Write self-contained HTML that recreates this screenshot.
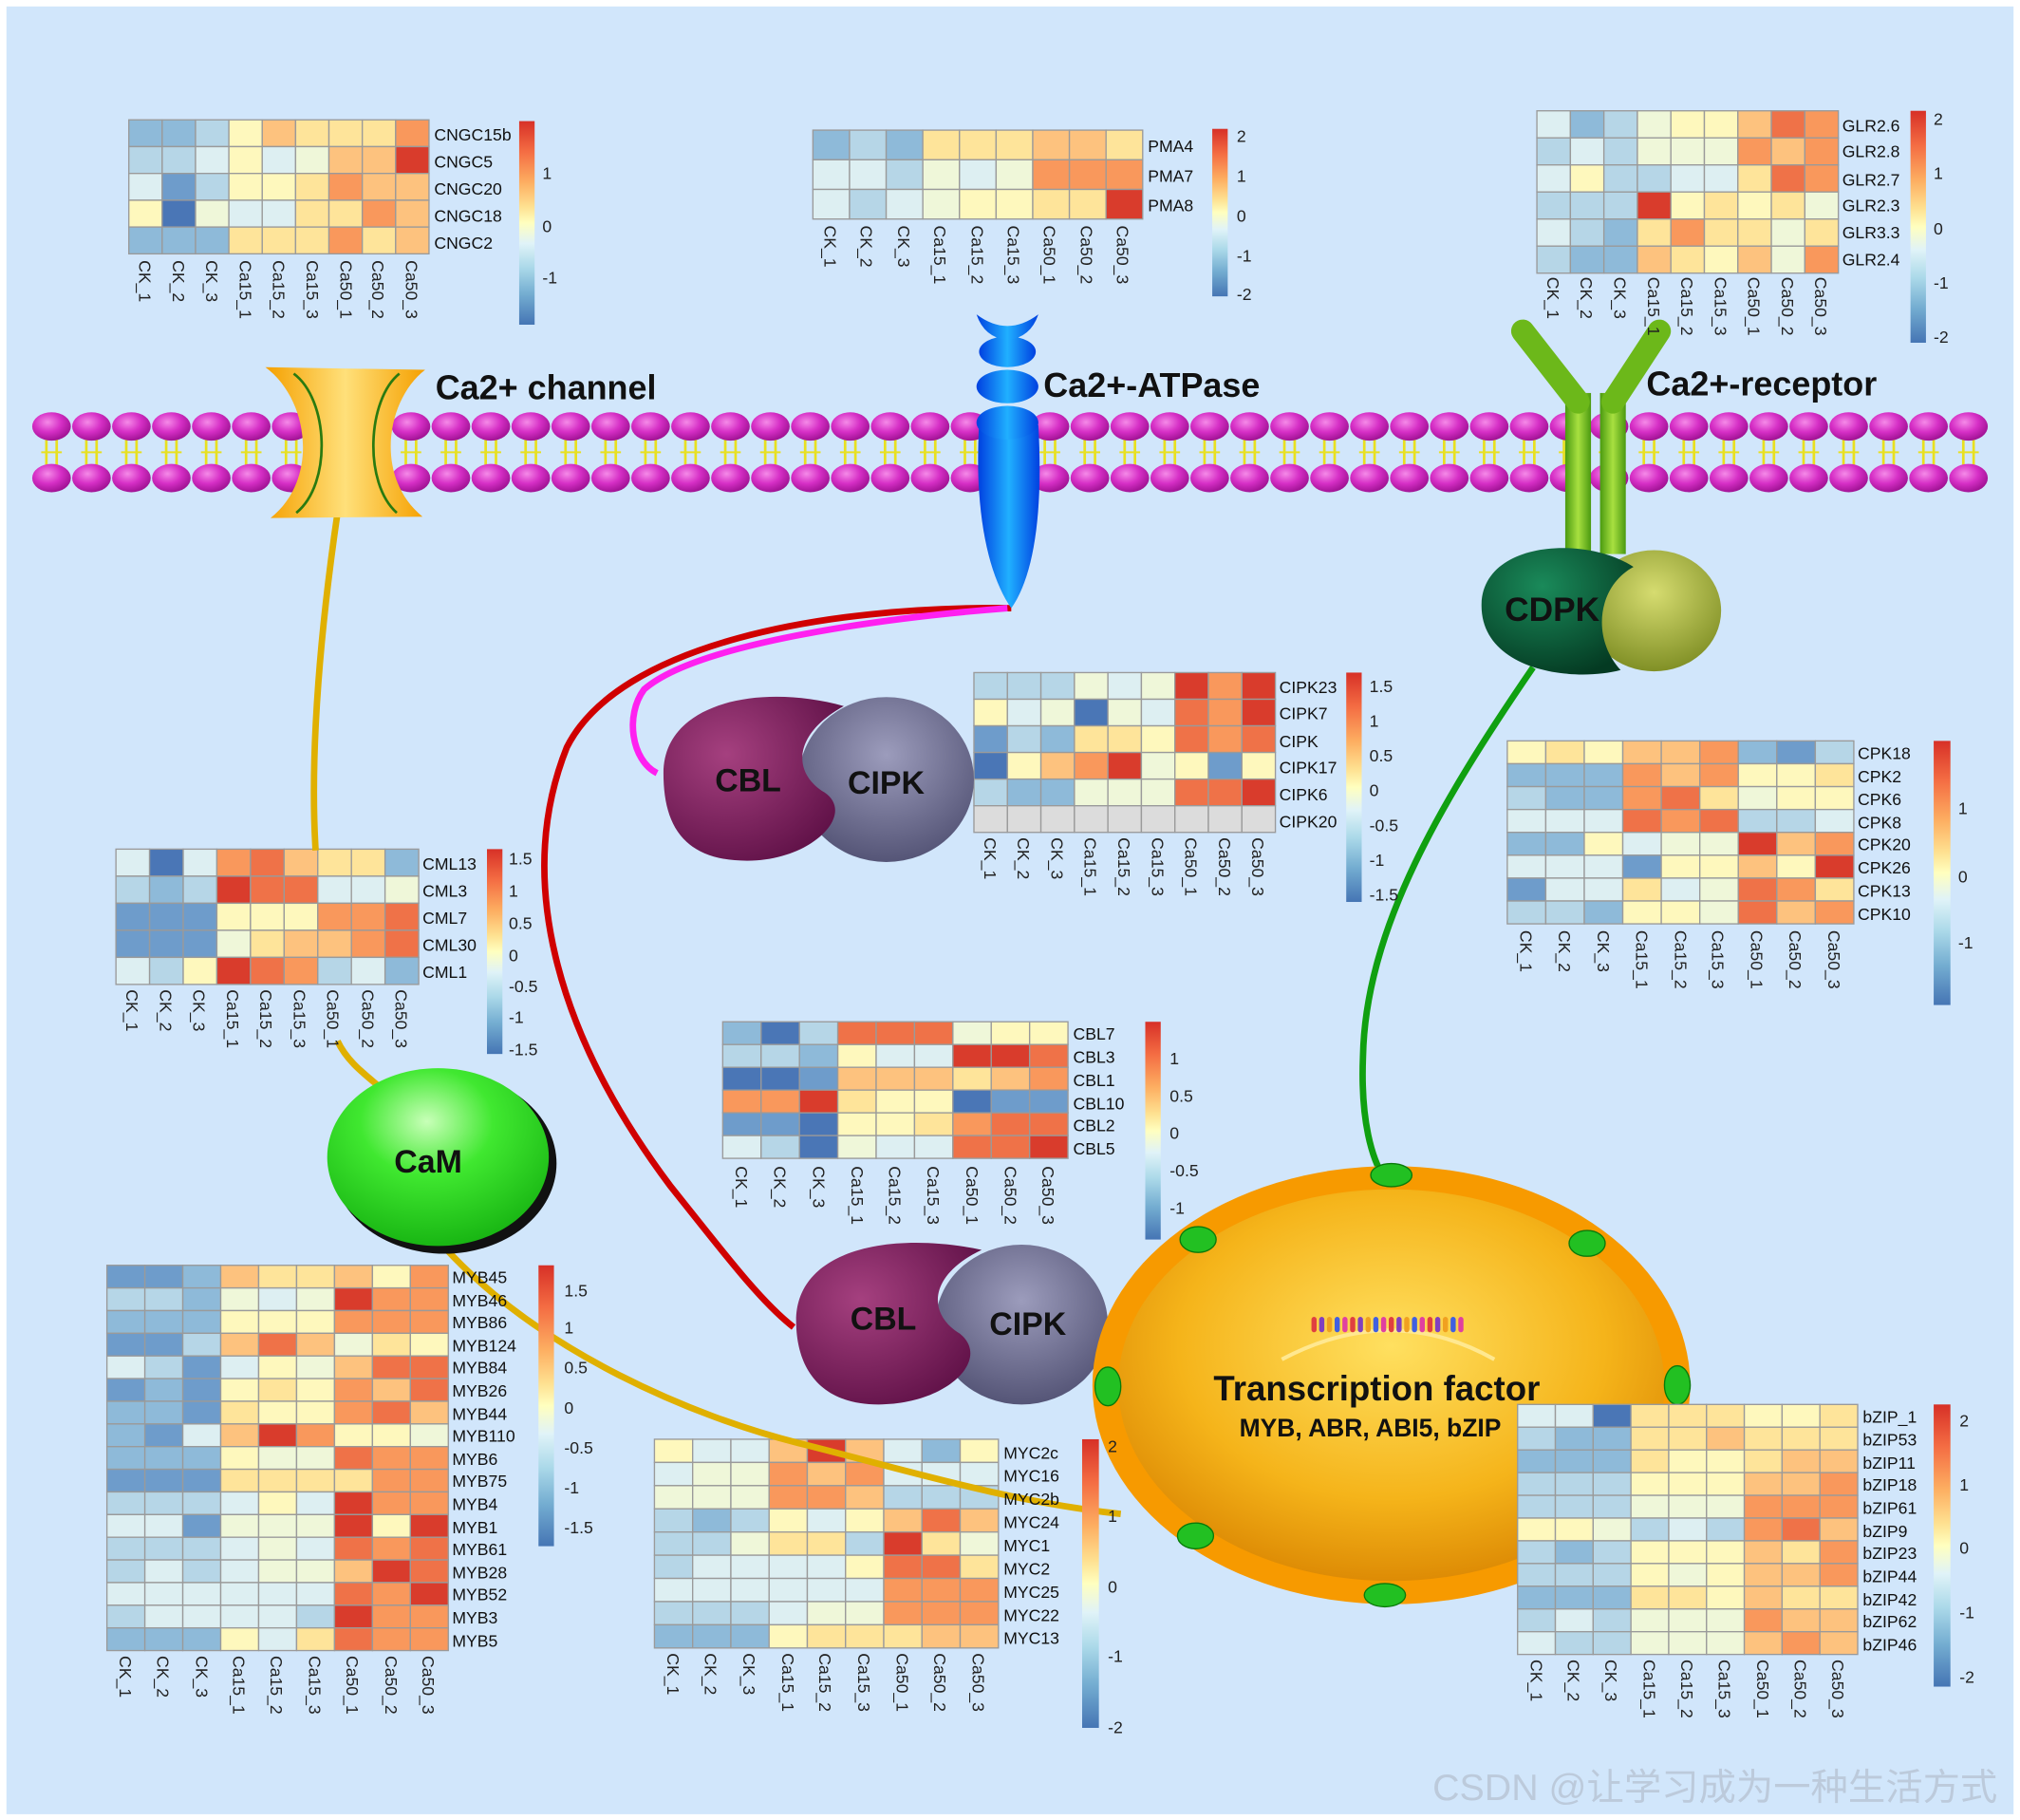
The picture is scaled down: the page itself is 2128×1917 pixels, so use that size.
<!DOCTYPE html>
<html><head><meta charset="utf-8"><style>
html,body{margin:0;padding:0;background:#fff;}
svg{display:block;}
text{font-family:"Liberation Sans",Arial,sans-serif;}
.lb{font-size:13px;fill:#111;}
.cl{font-size:13px;fill:#222;}
.tk{font-size:13px;fill:#222;}
.big{font-weight:bold;fill:#111;}
</style></head><body>
<svg id="s" xmlns="http://www.w3.org/2000/svg" width="2128" height="1917" viewBox="0 0 1568 1412.5" preserveAspectRatio="none">
<defs>
<linearGradient id="lg" x1="0" y1="0" x2="0" y2="1">
<stop offset="0" stop-color="#d73027"/><stop offset="0.15" stop-color="#f46d43"/><stop offset="0.3" stop-color="#fdae61"/><stop offset="0.42" stop-color="#fee090"/><stop offset="0.5" stop-color="#ffffbf"/><stop offset="0.6" stop-color="#e0f3f8"/><stop offset="0.72" stop-color="#abd9e9"/><stop offset="0.85" stop-color="#74add1"/><stop offset="1" stop-color="#4575b4"/>
</linearGradient>
<radialGradient id="head" cx="0.4" cy="0.35" r="0.7"><stop offset="0" stop-color="#f58ae8"/><stop offset="0.5" stop-color="#d62fc6"/><stop offset="1" stop-color="#9a0f8e"/></radialGradient>
<linearGradient id="chan" x1="0" y1="0" x2="1" y2="0"><stop offset="0" stop-color="#f5a000"/><stop offset="0.5" stop-color="#ffe07a"/><stop offset="1" stop-color="#f5a000"/></linearGradient>
<linearGradient id="blue" x1="0" y1="0" x2="1" y2="0"><stop offset="0" stop-color="#0040e0"/><stop offset="0.5" stop-color="#20b0ff"/><stop offset="1" stop-color="#0040e0"/></linearGradient>
<radialGradient id="purp" cx="0.35" cy="0.35" r="0.75"><stop offset="0" stop-color="#a5407f"/><stop offset="1" stop-color="#5e1046"/></radialGradient>
<radialGradient id="gray" cx="0.5" cy="0.35" r="0.75"><stop offset="0" stop-color="#9c9cbc"/><stop offset="1" stop-color="#4a4a6c"/></radialGradient>
<radialGradient id="cam" cx="0.45" cy="0.3" r="0.75"><stop offset="0" stop-color="#c8ffb8"/><stop offset="0.4" stop-color="#40e830"/><stop offset="1" stop-color="#14b010"/></radialGradient>
<radialGradient id="nuc" cx="0.5" cy="0.4" r="0.65"><stop offset="0" stop-color="#ffe060"/><stop offset="0.6" stop-color="#f5b41a"/><stop offset="1" stop-color="#d88200"/></radialGradient>
<radialGradient id="olive" cx="0.5" cy="0.35" r="0.7"><stop offset="0" stop-color="#d6dc70"/><stop offset="1" stop-color="#7a8a20"/></radialGradient>
<radialGradient id="dg" cx="0.4" cy="0.3" r="0.75"><stop offset="0" stop-color="#1a8a5a"/><stop offset="1" stop-color="#043a22"/></radialGradient>
<linearGradient id="rec" x1="0" y1="0" x2="1" y2="0"><stop offset="0" stop-color="#4a9a10"/><stop offset="0.5" stop-color="#a8e040"/><stop offset="1" stop-color="#4a9a10"/></linearGradient>
</defs>
<rect x="0" y="0" width="1568" height="1413" fill="#fff"/>
<rect x="5" y="5" width="1558" height="1403" fill="#d1e6fb"/>
<g id="mem"></g>
<g id="cells"></g>

<path d="M262,398 C250,480 240,580 245,660" stroke="#e0b000" stroke-width="5" fill="none"/>
<path d="M262,808 C270,825 285,835 300,848" stroke="#e0b000" stroke-width="5" fill="none"/>
<path d="M345,968 C420,1050 540,1100 620,1120 C700,1140 780,1165 870,1175" stroke="#e0b000" stroke-width="5" fill="none"/>
<path d="M785,472 C640,470 480,500 440,580 C400,680 430,800 520,920 C560,970 590,1010 616,1030" stroke="#d00000" stroke-width="5" fill="none"/>
<path d="M782,472 C680,480 540,500 500,535 C485,555 490,590 510,600" stroke="#ff20f0" stroke-width="5" fill="none"/>
<path d="M1190,518 C1120,620 1060,720 1058,820 C1056,870 1065,900 1075,915" stroke="#10a010" stroke-width="5" fill="none"/>

<path d="M206,285 L330,287 C300,310 290,370 328,401 L210,402 C248,372 240,310 206,285 Z" fill="url(#chan)"/>
<path d="M228,290 C255,310 258,375 230,398" stroke="#2a7a10" stroke-width="2" fill="none"/>
<path d="M310,290 C285,310 282,375 308,398" stroke="#2a7a10" stroke-width="2" fill="none"/>
<text x="338" y="310" class="big" font-size="26.5">Ca2+ channel</text>

<path d="M760,330 C756,400 768,448 785,472 C802,448 810,400 806,330 Z" fill="url(#blue)"/>
<ellipse cx="782" cy="328" rx="24" ry="13" fill="url(#blue)"/>
<ellipse cx="782" cy="300" rx="24" ry="13" fill="url(#blue)"/>
<ellipse cx="782" cy="273" rx="22" ry="12" fill="url(#blue)"/>
<path d="M758,244 Q782,262 806,244 Q800,262 782,264 Q764,262 758,244 Z" fill="url(#blue)"/>
<text x="810" y="308" class="big" font-size="26.5">Ca2+-ATPase</text>

<rect x="1215" y="305" width="20" height="125" fill="url(#rec)"/>
<rect x="1242" y="305" width="20" height="125" fill="url(#rec)"/>
<path d="M1225,312 L1182,257" stroke="#6cb81a" stroke-width="18" stroke-linecap="round"/>
<path d="M1252,312 L1288,257" stroke="#6cb81a" stroke-width="18" stroke-linecap="round"/>
<text x="1278" y="307" class="big" font-size="26.5">Ca2+-receptor</text>

<ellipse cx="1284" cy="474" rx="52" ry="47" fill="url(#olive)"/>
<path d="M1150,470 C1150,420 1230,415 1268,440 C1240,455 1235,495 1258,520 C1220,530 1150,520 1150,470 Z" fill="url(#dg)"/>
<text x="1168" y="482" class="big" font-size="26">CDPK</text>

<ellipse cx="688" cy="605" rx="68" ry="64" fill="url(#gray)"/>
<path d="M515,600 C515,545 590,530 655,548 C615,570 615,600 640,615 C665,632 630,668 580,668 C530,668 515,640 515,600 Z" fill="url(#purp)"/>
<text x="555" y="614" class="big" font-size="25">CBL</text>
<text x="658" y="616" class="big" font-size="25">CIPK</text>

<ellipse cx="793" cy="1028" rx="67" ry="62" fill="url(#gray)"/>
<path d="M618,1025 C618,970 690,955 762,970 C720,990 720,1020 745,1035 C770,1055 735,1090 682,1090 C635,1090 618,1060 618,1025 Z" fill="url(#purp)"/>
<text x="660" y="1032" class="big" font-size="25">CBL</text>
<text x="768" y="1036" class="big" font-size="25">CIPK</text>

<ellipse cx="345" cy="903" rx="87" ry="70" fill="#111"/>
<ellipse cx="340" cy="898" rx="86" ry="69" fill="url(#cam)"/>
<text x="306" y="910" class="big" font-size="25">CaM</text>

<ellipse cx="1080" cy="1075" rx="232" ry="170" fill="#f79a00"/>
<ellipse cx="1080" cy="1075" rx="212" ry="152" fill="url(#nuc)"/>
<path d="M995,1055 Q1080,1010 1160,1055" stroke="#ffe890" stroke-width="3" fill="none"/>
<g id="dna"></g>
<g fill="#22c022" stroke="#0a7a0a" stroke-width="1">
<ellipse cx="1080" cy="912" rx="16" ry="9"/><ellipse cx="1232" cy="965" rx="14" ry="10"/><ellipse cx="1302" cy="1075" rx="10" ry="15"/><ellipse cx="1075" cy="1238" rx="16" ry="9"/><ellipse cx="928" cy="1192" rx="14" ry="10"/><ellipse cx="860" cy="1076" rx="10" ry="15"/><ellipse cx="930" cy="962" rx="14" ry="10"/><ellipse cx="1228" cy="1190" rx="14" ry="10"/>
</g>
<text x="942" y="1087" class="big" font-size="27">Transcription factor</text>
<text x="962" y="1115" class="big" font-size="19.5">MYB, ABR, ABI5, bZIP</text>

<g id="cells2"></g>

<g>
<rect x="403" y="94" width="12" height="158" fill="url(#lg)"/>
<text class="tk" x="421" y="139">1</text><text class="tk" x="421" y="180">0</text><text class="tk" x="421" y="220">-1</text>
<rect x="941" y="100" width="12" height="130" fill="url(#lg)"/>
<text class="tk" x="960" y="110">2</text><text class="tk" x="960" y="141">1</text><text class="tk" x="960" y="172">0</text><text class="tk" x="960" y="203">-1</text><text class="tk" x="960" y="233">-2</text>
<rect x="1483" y="86" width="12" height="180" fill="url(#lg)"/>
<text class="tk" x="1501" y="97">2</text><text class="tk" x="1501" y="139">1</text><text class="tk" x="1501" y="182">0</text><text class="tk" x="1501" y="224">-1</text><text class="tk" x="1501" y="266">-2</text>
<rect x="1045" y="522" width="12" height="178" fill="url(#lg)"/>
<text class="tk" x="1063" y="537">1.5</text><text class="tk" x="1063" y="564">1</text><text class="tk" x="1063" y="591">0.5</text><text class="tk" x="1063" y="618">0</text><text class="tk" x="1063" y="645">-0.5</text><text class="tk" x="1063" y="672">-1</text><text class="tk" x="1063" y="699">-1.5</text>
<rect x="378" y="659" width="12" height="159" fill="url(#lg)"/>
<text class="tk" x="395" y="671">1.5</text><text class="tk" x="395" y="696">1</text><text class="tk" x="395" y="721">0.5</text><text class="tk" x="395" y="746">0</text><text class="tk" x="395" y="770">-0.5</text><text class="tk" x="395" y="794">-1</text><text class="tk" x="395" y="819">-1.5</text>
<rect x="1501" y="575" width="13" height="205" fill="url(#lg)"/>
<text class="tk" x="1520" y="632">1</text><text class="tk" x="1520" y="685">0</text><text class="tk" x="1520" y="736">-1</text>
<rect x="889" y="793" width="12" height="169" fill="url(#lg)"/>
<text class="tk" x="908" y="826">1</text><text class="tk" x="908" y="855">0.5</text><text class="tk" x="908" y="884">0</text><text class="tk" x="908" y="913">-0.5</text><text class="tk" x="908" y="942">-1</text>
<rect x="418" y="982" width="12" height="218" fill="url(#lg)"/>
<text class="tk" x="438" y="1006">1.5</text><text class="tk" x="438" y="1035">1</text><text class="tk" x="438" y="1066">0.5</text><text class="tk" x="438" y="1097">0</text><text class="tk" x="438" y="1128">-0.5</text><text class="tk" x="438" y="1159">-1</text><text class="tk" x="438" y="1190">-1.5</text>
<rect x="840" y="1117" width="13" height="224" fill="url(#lg)"/>
<text class="tk" x="860" y="1127">2</text><text class="tk" x="860" y="1181">1</text><text class="tk" x="860" y="1236">0</text><text class="tk" x="860" y="1290">-1</text><text class="tk" x="860" y="1345">-2</text>
<rect x="1501" y="1090" width="13" height="219" fill="url(#lg)"/>
<text class="tk" x="1521" y="1107">2</text><text class="tk" x="1521" y="1157">1</text><text class="tk" x="1521" y="1206">0</text><text class="tk" x="1521" y="1256">-1</text><text class="tk" x="1521" y="1306">-2</text>
</g>

<g class="lb">
<text x="337" y="109">CNGC15b</text><text x="337" y="130">CNGC5</text><text x="337" y="151">CNGC20</text><text x="337" y="172">CNGC18</text><text x="337" y="193">CNGC2</text>
<text x="891" y="118">PMA4</text><text x="891" y="141">PMA7</text><text x="891" y="164">PMA8</text>
<text x="1430" y="102">GLR2.6</text><text x="1430" y="122">GLR2.8</text><text x="1430" y="144">GLR2.7</text><text x="1430" y="164">GLR2.3</text><text x="1430" y="185">GLR3.3</text><text x="1430" y="206">GLR2.4</text>
<text x="993" y="538">CIPK23</text><text x="993" y="558">CIPK7</text><text x="993" y="580">CIPK</text><text x="993" y="600">CIPK17</text><text x="993" y="621">CIPK6</text><text x="993" y="642">CIPK20</text>
<text x="328" y="675">CML13</text><text x="328" y="696">CML3</text><text x="328" y="717">CML7</text><text x="328" y="738">CML30</text><text x="328" y="759">CML1</text>
<text x="1442" y="589">CPK18</text><text x="1442" y="607">CPK2</text><text x="1442" y="625">CPK6</text><text x="1442" y="643">CPK8</text><text x="1442" y="660">CPK20</text><text x="1442" y="678">CPK26</text><text x="1442" y="696">CPK13</text><text x="1442" y="714">CPK10</text>
<text x="833" y="807">CBL7</text><text x="833" y="825">CBL3</text><text x="833" y="843">CBL1</text><text x="833" y="861">CBL10</text><text x="833" y="878">CBL2</text><text x="833" y="896">CBL5</text>
<text x="351" y="996">MYB45</text><text x="351" y="1014">MYB46</text><text x="351" y="1031">MYB86</text><text x="351" y="1049">MYB124</text><text x="351" y="1066">MYB84</text><text x="351" y="1084">MYB26</text><text x="351" y="1102">MYB44</text><text x="351" y="1119">MYB110</text><text x="351" y="1137">MYB6</text><text x="351" y="1154">MYB75</text><text x="351" y="1172">MYB4</text><text x="351" y="1190">MYB1</text><text x="351" y="1207">MYB61</text><text x="351" y="1225">MYB28</text><text x="351" y="1242">MYB52</text><text x="351" y="1260">MYB3</text><text x="351" y="1278">MYB5</text>
<text x="779" y="1132">MYC2c</text><text x="779" y="1150">MYC16</text><text x="779" y="1168">MYC2b</text><text x="779" y="1186">MYC24</text><text x="779" y="1204">MYC1</text><text x="779" y="1222">MYC2</text><text x="779" y="1240">MYC25</text><text x="779" y="1258">MYC22</text><text x="779" y="1276">MYC13</text>
<text x="1446" y="1104">bZIP_1</text><text x="1446" y="1122">bZIP53</text><text x="1446" y="1140">bZIP11</text><text x="1446" y="1157">bZIP18</text><text x="1446" y="1175">bZIP61</text><text x="1446" y="1193">bZIP9</text><text x="1446" y="1210">bZIP23</text><text x="1446" y="1228">bZIP44</text><text x="1446" y="1246">bZIP42</text><text x="1446" y="1263">bZIP62</text><text x="1446" y="1281">bZIP46</text>
</g>

<g class="cl">
<g transform="translate(0,202)"><text transform="translate(108,0) rotate(90)">CK_1</text><text transform="translate(134,0) rotate(90)">CK_2</text><text transform="translate(160,0) rotate(90)">CK_3</text><text transform="translate(186,0) rotate(90)">Ca15_1</text><text transform="translate(212,0) rotate(90)">Ca15_2</text><text transform="translate(238,0) rotate(90)">Ca15_3</text><text transform="translate(264,0) rotate(90)">Ca50_1</text><text transform="translate(289,0) rotate(90)">Ca50_2</text><text transform="translate(315,0) rotate(90)">Ca50_3</text></g>
<g transform="translate(0,175)"><text transform="translate(640,0) rotate(90)">CK_1</text><text transform="translate(668,0) rotate(90)">CK_2</text><text transform="translate(697,0) rotate(90)">CK_3</text><text transform="translate(725,0) rotate(90)">Ca15_1</text><text transform="translate(754,0) rotate(90)">Ca15_2</text><text transform="translate(782,0) rotate(90)">Ca15_3</text><text transform="translate(810,0) rotate(90)">Ca50_1</text><text transform="translate(839,0) rotate(90)">Ca50_2</text><text transform="translate(867,0) rotate(90)">Ca50_3</text></g>
<g transform="translate(0,215)"><text transform="translate(1201,0) rotate(90)">CK_1</text><text transform="translate(1227,0) rotate(90)">CK_2</text><text transform="translate(1253,0) rotate(90)">CK_3</text><text transform="translate(1279,0) rotate(90)">Ca15_1</text><text transform="translate(1305,0) rotate(90)">Ca15_2</text><text transform="translate(1331,0) rotate(90)">Ca15_3</text><text transform="translate(1357,0) rotate(90)">Ca50_1</text><text transform="translate(1383,0) rotate(90)">Ca50_2</text><text transform="translate(1409,0) rotate(90)">Ca50_3</text></g>
<g transform="translate(0,650)"><text transform="translate(764,0) rotate(90)">CK_1</text><text transform="translate(790,0) rotate(90)">CK_2</text><text transform="translate(816,0) rotate(90)">CK_3</text><text transform="translate(842,0) rotate(90)">Ca15_1</text><text transform="translate(868,0) rotate(90)">Ca15_2</text><text transform="translate(894,0) rotate(90)">Ca15_3</text><text transform="translate(920,0) rotate(90)">Ca50_1</text><text transform="translate(946,0) rotate(90)">Ca50_2</text><text transform="translate(972,0) rotate(90)">Ca50_3</text></g>
<g transform="translate(0,768)"><text transform="translate(98,0) rotate(90)">CK_1</text><text transform="translate(124,0) rotate(90)">CK_2</text><text transform="translate(150,0) rotate(90)">CK_3</text><text transform="translate(176,0) rotate(90)">Ca15_1</text><text transform="translate(202,0) rotate(90)">Ca15_2</text><text transform="translate(228,0) rotate(90)">Ca15_3</text><text transform="translate(254,0) rotate(90)">Ca50_1</text><text transform="translate(281,0) rotate(90)">Ca50_2</text><text transform="translate(307,0) rotate(90)">Ca50_3</text></g>
<g transform="translate(0,722)"><text transform="translate(1180,0) rotate(90)">CK_1</text><text transform="translate(1210,0) rotate(90)">CK_2</text><text transform="translate(1240,0) rotate(90)">CK_3</text><text transform="translate(1270,0) rotate(90)">Ca15_1</text><text transform="translate(1300,0) rotate(90)">Ca15_2</text><text transform="translate(1329,0) rotate(90)">Ca15_3</text><text transform="translate(1359,0) rotate(90)">Ca50_1</text><text transform="translate(1389,0) rotate(90)">Ca50_2</text><text transform="translate(1419,0) rotate(90)">Ca50_3</text></g>
<g transform="translate(0,905)"><text transform="translate(571,0) rotate(90)">CK_1</text><text transform="translate(601,0) rotate(90)">CK_2</text><text transform="translate(631,0) rotate(90)">CK_3</text><text transform="translate(661,0) rotate(90)">Ca15_1</text><text transform="translate(690,0) rotate(90)">Ca15_2</text><text transform="translate(720,0) rotate(90)">Ca15_3</text><text transform="translate(750,0) rotate(90)">Ca50_1</text><text transform="translate(780,0) rotate(90)">Ca50_2</text><text transform="translate(809,0) rotate(90)">Ca50_3</text></g>
<g transform="translate(0,1285)"><text transform="translate(93,0) rotate(90)">CK_1</text><text transform="translate(122,0) rotate(90)">CK_2</text><text transform="translate(152,0) rotate(90)">CK_3</text><text transform="translate(181,0) rotate(90)">Ca15_1</text><text transform="translate(210,0) rotate(90)">Ca15_2</text><text transform="translate(240,0) rotate(90)">Ca15_3</text><text transform="translate(269,0) rotate(90)">Ca50_1</text><text transform="translate(299,0) rotate(90)">Ca50_2</text><text transform="translate(328,0) rotate(90)">Ca50_3</text></g>
<g transform="translate(0,1283)"><text transform="translate(518,0) rotate(90)">CK_1</text><text transform="translate(547,0) rotate(90)">CK_2</text><text transform="translate(577,0) rotate(90)">CK_3</text><text transform="translate(607,0) rotate(90)">Ca15_1</text><text transform="translate(636,0) rotate(90)">Ca15_2</text><text transform="translate(666,0) rotate(90)">Ca15_3</text><text transform="translate(696,0) rotate(90)">Ca50_1</text><text transform="translate(725,0) rotate(90)">Ca50_2</text><text transform="translate(755,0) rotate(90)">Ca50_3</text></g>
<g transform="translate(0,1288)"><text transform="translate(1188,0) rotate(90)">CK_1</text><text transform="translate(1217,0) rotate(90)">CK_2</text><text transform="translate(1246,0) rotate(90)">CK_3</text><text transform="translate(1276,0) rotate(90)">Ca15_1</text><text transform="translate(1305,0) rotate(90)">Ca15_2</text><text transform="translate(1334,0) rotate(90)">Ca15_3</text><text transform="translate(1364,0) rotate(90)">Ca50_1</text><text transform="translate(1393,0) rotate(90)">Ca50_2</text><text transform="translate(1422,0) rotate(90)">Ca50_3</text></g>
</g>

<text x="1112" y="1397" font-size="29" fill="#bccadb" style="font-family:'Liberation Sans','Noto Sans CJK SC',sans-serif">CSDN @让学习成为一种生活方式</text>
</svg>
<script>
var NS="http://www.w3.org/2000/svg";
function el(p,t,a){var e=document.createElementNS(NS,t);for(var k in a)e.setAttribute(k,a[k]);p.appendChild(e);return e;}
var C={"1":"#4a76b6","2":"#6e9ccb","3":"#8ebad9","4":"#b6d6e7","5":"#ddeff2","6":"#eff7d9","7":"#fef8bd","8":"#fee49a","9":"#fdc27e","A":"#f9985c","B":"#ef7248","C":"#d93c2c","G":"#dcdcdc"};
var mem=document.getElementById("mem");
for(var x=40;x<=1532;x+=31){
 el(mem,"line",{x1:x-4,y1:340,x2:x-4,y2:362,stroke:"#e8e020","stroke-width":2});
 el(mem,"line",{x1:x+4,y1:340,x2:x+4,y2:362,stroke:"#e8e020","stroke-width":2});
 el(mem,"line",{x1:x-8,y1:351,x2:x+8,y2:351,stroke:"#e8e020","stroke-width":1.5});
 el(mem,"ellipse",{cx:x,cy:331,rx:15,ry:11,fill:"url(#head)"});
 el(mem,"ellipse",{cx:x,cy:371,rx:15,ry:11,fill:"url(#head)"});
}
var cells=document.getElementById("cells");
function hm(x0,y0,x1,y1,rows){
 var n=rows.length,w=(x1-x0)/9,h=(y1-y0)/n;
 for(var r=0;r<n;r++)for(var c=0;c<9;c++)
  el(cells,"rect",{x:x0+c*w,y:y0+r*h,width:w,height:h,fill:C[rows[r][c]],stroke:"#9a9a9a","stroke-width":1});
}
hm(100,93,333,197,["33479888A","44575699C","524778A99","7165588A9","333888A89"]);
hm(631,101,887,170,["343888998","554656AAA","54567788C"]);
hm(1193,86,1427,212,["5346779BA","454666A9A","5744558BA","444C78786","5438A8868","43398796A"]);
hm(756,522,990,646,["444656CAC","756165BAC","243887BAB","179AC6727","433666BBC","GGGGGGGGG"]);
hm(90,659,325,764,["515AB9883","434CBB556","222777AAB","2226899AB","547CBA453"]);
hm(1170,575,1439,717,["78799A324","333A9A778","433AB8677","555BAB445","337566C9A","55527797C","255856BA8","443776B9A"]);
hm(561,793,829,899,["314BBB677","443755CCB","11299989A","AAC877122","221778ABB","541655BBC"]);
hm(83,982,348,1281,["22398897A","443656CAA","333777AAA","2249B9687","5425769BB","232787A9B","332877AB9","3259CA776","333766BAA","2228888AA","444575CAA","552666C7C","444565BAB","4545669CB","555555BAC","455554CAA","333758BAA"]);
hm(508,1117,775,1279,["7559C9537","566A9A555","666AA9444","4347579B9","446884C86","455557BB8","555555AAA","444566AAA","333788899"]);
cells=document.getElementById("cells2");
hm(1178,1090,1442,1284,["551888778","433889888","333877899","44477799A","444666AAA","776454AB9","43477798A","44476799A","333887988","454666A99","5446669A9"]);
var dna=document.getElementById("dna"),cols=["#e04040","#8040c0","#f0a020","#4060e0","#e040a0"];
for(var i=0;i<20;i++)el(dna,"rect",{x:1018+i*6,y:1022,width:4,height:12,rx:2,fill:cols[i%5]});
</script>
</body></html>
